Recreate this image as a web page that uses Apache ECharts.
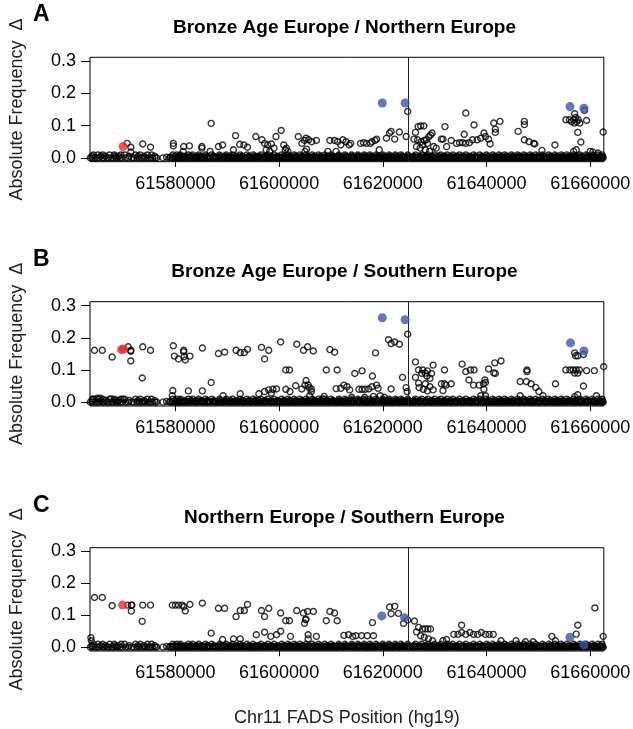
<!DOCTYPE html>
<html><head><meta charset="utf-8">
<script src="https://cdn.jsdelivr.net/npm/echarts@6/dist/echarts.min.js"></script>
<style>html,body{margin:0;padding:0;background:#fff}#c{width:633px;height:729px}</style>
</head><body><div id="c"></div>
<script>
// ---- chart text ----
const panelLetters = ['A', 'B', 'C'];
const panelTitles = ['Bronze Age Europe / Northern Europe', 'Bronze Age Europe / Southern Europe', 'Northern Europe / Southern Europe'];
const yAxisTitle = 'Absolute Frequency  \u0394';
const xAxisTitle = 'Chr11 FADS Position (hg19)';
// ---- axes (positions in bp) ----
const xTicks = [61580000, 61600000, 61620000, 61640000, 61660000];
const yTicks = [0, 0.1, 0.2, 0.3];
const xRange = [61563530, 61662630];
const yRange = [-0.012, 0.312];
const boundaryPos = 61625000;
// ---- SNP positions (kb) with frequency difference ~0, shared by all panels ----
const basePosKb = [61563.6,61564.0,61564.5,61564.9,61565.3,61565.9,61566.2,61566.8,61567.1,61567.6,61568.0,61568.5,61568.8,61569.3,61569.7,61570.4,61570.9,61571.6,61572.0,61572.6,61573.0,61573.5,61573.9,61574.3,61574.8,61575.2,61575.6,61576.1,61576.4,61577.6,61578.9,61579.3,61579.7,61580.1,61580.5,61580.8,61581.2,61581.6,61582.0,61582.3,61582.7,61583.1,61583.6,61584.0,61584.3,61584.8,61585.2,61585.6,61586.0,61586.3,61586.7,61587.2,61587.6,61588.0,61588.3,61588.8,61589.1,61589.5,61590.0,61590.4,61590.7,61591.2,61591.6,61592.0,61592.3,61592.8,61593.2,61593.5,61594.0,61594.4,61594.7,61595.2,61595.6,61596.0,61596.3,61596.8,61597.1,61597.5,61598.0,61598.3,61598.7,61599.2,61599.5,61599.9,61600.3,61600.7,61601.1,61601.5,61601.9,61602.2,61602.7,61603.0,61603.4,61603.9,61604.2,61604.6,61605.0,61605.4,61605.8,61606.2,61606.6,61607.0,61607.4,61607.8,61608.2,61608.6,61609.0,61609.4,61609.8,61610.2,61610.6,61611.0,61611.3,61611.8,61612.2,61612.5,61613.0,61613.3,61613.8,61614.2,61614.5,61615.0,61615.4,61615.7,61616.2,61616.6,61617.0,61617.3,61617.8,61618.2,61618.5,61619.0,61619.4,61619.8,61620.2,61620.5,61621.0,61621.4,61621.8,61622.1,61622.6,61623.0,61623.3,61623.8,61624.2,61624.6,61625.0,61625.4,61625.8,61626.1,61626.6,61627.0,61627.3,61627.8,61628.2,61628.5,61629.0,61629.4,61629.7,61630.2,61630.6,61631.0,61631.3,61631.8,61632.2,61632.5,61633.0,61633.3,61633.8,61634.2,61634.5,61635.0,61635.4,61635.7,61636.2,61636.6,61637.0,61637.3,61637.8,61638.2,61638.5,61639.0,61639.4,61639.7,61640.2,61640.6,61641.0,61641.3,61641.8,61642.2,61642.5,61643.0,61643.4,61643.7,61644.2,61644.6,61645.0,61645.3,61645.8,61646.2,61646.5,61647.0,61647.4,61647.7,61648.2,61648.6,61649.0,61649.3,61649.8,61650.2,61650.5,61651.0,61651.4,61651.7,61652.2,61652.6,61653.0,61653.3,61653.8,61654.2,61654.5,61655.0,61655.4,61655.7,61656.2,61656.6,61657.0,61657.3,61657.8,61658.2,61658.5,61659.0,61659.4,61659.7,61660.2,61660.6,61661.0,61661.3,61661.8,61662.2,61662.5];
const densePosKb = [61578.3,61579.0,61579.5,61580.3,61580.7,61581.4,61581.8,61582.5,61583.3,61583.8,61584.6,61585.0,61585.4,61586.2,61586.5,61587.4,61587.8,61588.5,61589.3,61589.8,61590.2,61590.9,61591.4,61592.1,61592.6,61593.0,61593.8,61594.2,61594.9,61595.4,61595.8,61596.5,61597.3,61597.8,61598.5,61598.9,61599.7,61600.1,61600.6,61600.9,61601.3,61601.8,61602.0,61602.5,61602.9,61603.2,61603.7,61604.1,61604.4,61604.8,61605.2,61605.7,61606.0,61606.4,61606.9,61607.2,61607.6,61608.1,61608.4,61608.8,61609.2,61609.7,61610.0,61610.4,61610.9,61611.2,61611.6,61612.1,61612.4,61612.8,61613.2,61613.7,61614.0,61614.4,61614.9,61615.2,61615.6,61616.1,61616.4,61616.8,61617.2,61617.7,61618.0,61618.4,61618.9,61619.2,61619.6,61620.1,61620.4,61620.8,61621.2,61621.7,61622.0,61622.4,61622.9,61623.2,61623.6,61624.1,61624.4,61624.8,61625.2,61625.7,61626.0,61626.4,61626.9,61627.2,61627.6,61628.1,61628.4,61628.8,61629.2,61629.7,61630.0,61630.4,61630.9,61631.2,61631.6,61632.1,61632.4,61632.8,61633.2,61633.7,61634.0,61634.4,61634.9,61635.2,61635.6,61636.1,61636.4,61636.8,61637.2,61637.7,61638.0,61638.4,61638.9,61639.2,61639.6,61640.1,61640.4,61640.8,61641.2,61641.7,61642.0,61642.4,61642.9,61643.2,61643.6,61644.1,61644.4,61644.8,61645.2,61645.7,61646.0,61646.4,61646.9,61647.2,61647.6,61648.1,61648.4,61648.8,61649.2,61649.7,61650.0,61650.4,61650.9,61651.2,61651.6,61652.1,61652.4,61652.8,61653.2,61653.7,61654.0,61654.4,61654.9,61655.2,61655.6,61656.1,61656.4,61656.8,61657.2,61657.7,61658.0,61658.4,61658.9,61659.2,61659.6,61660.1,61660.4,61660.8,61661.2,61661.7,61662.0,61662.4];
const denseVal = 0.002;
const midPosKb = [61563.9,61565.6,61566.5,61568.4,61569.0,61571.1,61572.8,61574.0,61576.0,61579.9,61580.9,61581.9,61583.0,61584.1,61585.0,61586.1,61587.4,61588.6,61589.6,61590.6,61591.8,61592.9,61594.2,61595.4,61596.1,61597.3,61598.5,61599.7,61600.9,61602.0,61603.2,61604.4,61605.6,61606.8,61608.0,61609.2,61610.4,61611.6,61612.9,61614.1,61615.3,61616.5,61617.7,61618.9,61620.1,61621.3,61622.5,61623.7,61624.9,61626.0,61627.1,61628.3,61629.5,61630.8,61631.9,61633.1,61634.3,61635.5,61636.7,61637.9,61639.1,61640.3,61641.5,61642.7,61643.9,61645.1,61646.3,61647.5,61648.7,61649.9,61651.1,61652.3,61653.5,61654.7,61655.9,61657.1,61658.3,61659.5,61660.7,61661.9];
const midVal = 0.005;
const lowPosKb = [61564.2,61565.1,61566.0,61567.3,61568.2,61569.5,61570.2,61572.3,61573.2,61574.6,61575.4,61579.5,61580.3,61581.0,61582.5,61583.3,61584.5,61585.8,61587.0,61588.5,61589.8,61591.0,61592.5,61593.8,61595.0,61596.5,61597.8,61599.0,61600.5,61601.7,61602.9,61604.0,61605.2,61606.4,61607.6,61608.8,61610.0,61611.5,61612.7,61614.0,61615.2,61616.4,61617.5,61618.7,61620.0,61621.2,61622.4,61623.5,61624.8,61626.3,61627.5,61628.7,61630.0,61631.2,61632.4,61633.5,61634.8,61636.0,61637.5,61638.7,61640.0,61641.2,61642.4,61643.5,61644.8,61646.0,61647.2,61648.4,61649.5,61650.8,61652.0,61653.2,61654.4,61655.5,61656.8,61658.0,61659.2,61660.4,61661.5,61662.3];
const lowVal = 0.009;
// ---- Panel A: [position kb, |delta freq|] ----
const snpsA = [[61570.7,0.045],[61571.4,0.033],[61571.4,0.018],[61573.7,0.043],[61575.2,0.033],[61579.6,0.045],[61579.6,0.037],[61581.6,0.035],[61581.5,0.02],[61582.7,0.037],[61585.1,0.035],[61585.1,0.03],[61586.7,0.02],[61586.9,0.107],[61588.3,0.035],[61589.1,0.04],[61591.6,0.069],[61591.2,0.025],[61592.4,0.042],[61593.2,0.04],[61593.9,0.033],[61595.5,0.066],[61596.7,0.056],[61597.2,0.045],[61597.8,0.04],[61598.5,0.043],[61599.4,0.066],[61600.4,0.085],[61597.5,0.025],[61598.2,0.02],[61599.0,0.03],[61600.9,0.04],[61601.2,0.025],[61601.4,0.03],[61601.7,0.02],[61603.7,0.066],[61604.4,0.045],[61604.9,0.054],[61605.2,0.061],[61605.7,0.056],[61606.3,0.05],[61607.2,0.054],[61605.0,0.02],[61605.3,0.027],[61609.8,0.054],[61610.7,0.054],[61611.3,0.05],[61611.9,0.04],[61612.3,0.056],[61612.9,0.05],[61613.5,0.04],[61613.8,0.045],[61611.0,0.02],[61609.4,0.02],[61615.7,0.045],[61616.3,0.047],[61616.9,0.045],[61617.6,0.045],[61617.9,0.05],[61618.5,0.054],[61618.8,0.058],[61619.3,0.025],[61620.7,0.061],[61621.3,0.077],[61621.6,0.082],[61622.3,0.058],[61623.2,0.08],[61624.5,0.066],[61624.8,0.144],[61626.3,0.079],[61626.8,0.097],[61627.3,0.099],[61627.9,0.099],[61626.0,0.058],[61626.7,0.056],[61627.4,0.05],[61628.0,0.054],[61628.4,0.056],[61628.9,0.066],[61629.5,0.077],[61629.2,0.071],[61626.5,0.035],[61627.2,0.03],[61627.7,0.04],[61628.2,0.025],[61628.6,0.045],[61629.0,0.02],[61629.8,0.035],[61630.3,0.03],[61632.0,0.097],[61631.3,0.058],[61631.6,0.058],[61632.3,0.035],[61633.2,0.054],[61634.2,0.045],[61634.8,0.047],[61635.4,0.047],[61635.7,0.073],[61636.0,0.045],[61636.7,0.047],[61637.3,0.056],[61637.6,0.102],[61638.2,0.056],[61638.9,0.061],[61639.5,0.077],[61639.8,0.066],[61640.4,0.058],[61640.7,0.043],[61636.0,0.139],[61641.4,0.108],[61641.7,0.089],[61641.7,0.079],[61642.6,0.113],[61646.1,0.082],[61647.3,0.113],[61647.3,0.103],[61647.3,0.056],[61648.2,0.05],[61649.1,0.045],[61649.3,0.043],[61650.7,0.023],[61653.2,0.04],[61655.3,0.118],[61656.0,0.118],[61656.4,0.112],[61656.8,0.118],[61657.0,0.108],[61657.2,0.125],[61657.4,0.112],[61657.7,0.118],[61658.0,0.108],[61657.0,0.137],[61658.9,0.147],[61659.3,0.116],[61657.6,0.079],[61658.2,0.049],[61656.8,0.02],[61657.3,0.025],[61660.0,0.02],[61660.5,0.018],[61661.5,0.015],[61662.5,0.08]];
const blueA = [[61619.9,0.17],[61624.3,0.17],[61656.1,0.159],[61658.8,0.154]];
const redA = [[61569.9,0.035]];
// ---- Panel B ----
const snpsB = [[61564.4,0.161],[61565.9,0.161],[61567.8,0.14],[61570.9,0.172],[61571.4,0.161],[61571.4,0.158],[61571.4,0.128],[61573.7,0.172],[61575.2,0.161],[61573.6,0.075],[61579.6,0.175],[61579.8,0.143],[61580.6,0.134],[61581.6,0.161],[61581.6,0.156],[61581.9,0.131],[61581.7,0.141],[61582.8,0.143],[61585.2,0.168],[61586.9,0.061],[61588.3,0.151],[61589.5,0.155],[61591.7,0.161],[61592.5,0.154],[61593.3,0.154],[61593.9,0.164],[61596.6,0.17],[61598.0,0.161],[61597.2,0.134],[61600.3,0.187],[61601.3,0.1],[61602.0,0.1],[61603.4,0.18],[61604.7,0.161],[61605.5,0.172],[61606.6,0.159],[61609.1,0.1],[61609.8,0.163],[61610.7,0.155],[61611.2,0.1],[61564.0,0.01],[61564.9,0.012],[61565.5,0.012],[61567.6,0.01],[61569.9,0.009],[61579.5,0.036],[61579.4,0.02],[61582.5,0.035],[61585.2,0.035],[61589.2,0.02],[61592.5,0.026],[61596.1,0.026],[61597.2,0.033],[61598.0,0.038],[61598.8,0.04],[61599.5,0.041],[61598.5,0.028],[61601.3,0.04],[61602.1,0.033],[61603.2,0.051],[61604.4,0.041],[61605.0,0.053],[61605.2,0.067],[61605.6,0.053],[61605.8,0.045],[61606.2,0.041],[61606.2,0.033],[61605.9,0.02],[61608.4,0.01],[61608.7,0.018],[61611.0,0.042],[61611.9,0.043],[61612.5,0.053],[61613.1,0.048],[61613.6,0.038],[61614.6,0.089],[61616.0,0.097],[61618.0,0.081],[61618.6,0.153],[61621.1,0.194],[61621.6,0.182],[61622.3,0.187],[61623.2,0.18],[61623.8,0.077],[61624.8,0.211],[61615.4,0.04],[61616.0,0.04],[61616.6,0.04],[61617.3,0.041],[61617.9,0.048],[61618.8,0.053],[61619.1,0.043],[61621.6,0.041],[61624.5,0.045],[61624.7,0.033],[61614.0,0.015],[61616.5,0.015],[61618.2,0.018],[61619.5,0.02],[61620.3,0.015],[61626.3,0.125],[61626.9,0.1],[61627.7,0.1],[61628.2,0.09],[61628.6,0.097],[61629.1,0.074],[61629.4,0.089],[61629.7,0.115],[61627.5,0.089],[61628.5,0.081],[61626.3,0.077],[61626.9,0.059],[61628.2,0.057],[61629.1,0.048],[61629.7,0.038],[61627.8,0.04],[61627.0,0.045],[61628.6,0.035],[61631.9,0.1],[61631.3,0.057],[61631.9,0.057],[61632.2,0.053],[61633.2,0.057],[61631.6,0.036],[61635.3,0.118],[61636.0,0.095],[61636.9,0.1],[61637.6,0.1],[61636.6,0.069],[61637.5,0.053],[61638.6,0.053],[61639.4,0.057],[61639.8,0.061],[61639.7,0.069],[61640.4,0.103],[61641.4,0.091],[61641.7,0.089],[61641.6,0.122],[61642.8,0.128],[61639.5,0.04],[61639.8,0.02],[61638.9,0.02],[61647.8,0.1],[61647.8,0.095],[61646.5,0.064],[61647.7,0.064],[61648.6,0.057],[61649.5,0.046],[61650.1,0.033],[61646.5,0.02],[61650.9,0.02],[61653.3,0.057],[61655.3,0.1],[61656.1,0.1],[61656.7,0.1],[61657.3,0.1],[61657.9,0.1],[61657.0,0.09],[61657.6,0.09],[61657.0,0.153],[61657.2,0.144],[61657.6,0.144],[61658.7,0.148],[61659.3,0.098],[61660.8,0.098],[61658.7,0.05],[61657.0,0.017],[61657.6,0.023],[61661.2,0.02],[61662.6,0.11]];
const blueB = [[61619.9,0.262],[61624.3,0.256],[61656.2,0.184],[61658.8,0.159]];
const redB = [[61569.6,0.163],[61570.0,0.165]];
// ---- Panel C ----
const snpsC = [[61564.4,0.156],[61565.9,0.156],[61567.8,0.13],[61570.8,0.132],[61571.5,0.132],[61571.6,0.132],[61571.5,0.113],[61573.7,0.132],[61575.2,0.132],[61573.6,0.081],[61579.4,0.132],[61580.0,0.132],[61580.6,0.132],[61581.3,0.132],[61581.6,0.127],[61581.9,0.114],[61582.8,0.134],[61585.2,0.138],[61588.3,0.122],[61589.5,0.122],[61591.7,0.096],[61592.5,0.115],[61593.3,0.115],[61593.9,0.134],[61596.6,0.115],[61597.2,0.096],[61598.0,0.122],[61600.3,0.107],[61601.3,0.083],[61602.0,0.083],[61603.4,0.115],[61604.7,0.107],[61605.5,0.112],[61606.6,0.112],[61604.9,0.075],[61605.1,0.086],[61605.2,0.088],[61609.1,0.083],[61609.8,0.112],[61610.7,0.107],[61611.2,0.083],[61563.7,0.03],[61563.8,0.02],[61586.9,0.044],[61589.1,0.024],[61591.2,0.026],[61592.5,0.026],[61595.6,0.039],[61597.2,0.047],[61598.4,0.034],[61599.5,0.039],[61600.3,0.05],[61602.2,0.034],[61605.6,0.039],[61605.6,0.026],[61607.2,0.034],[61612.5,0.037],[61613.4,0.039],[61614.2,0.034],[61618.0,0.077],[61621.6,0.105],[61622.3,0.128],[61621.3,0.126],[61623.0,0.106],[61624.0,0.075],[61624.8,0.085],[61614.8,0.036],[61615.9,0.036],[61617.0,0.036],[61618.2,0.036],[61626.1,0.082],[61626.9,0.062],[61627.7,0.057],[61628.2,0.057],[61628.7,0.057],[61629.2,0.057],[61626.5,0.048],[61627.3,0.036],[61628.0,0.031],[61628.8,0.026],[61629.6,0.02],[61633.7,0.04],[61634.5,0.04],[61635.2,0.046],[61636.0,0.04],[61636.8,0.046],[61637.5,0.04],[61638.3,0.04],[61639.0,0.046],[61639.8,0.04],[61640.5,0.04],[61641.3,0.04],[61635.2,0.069],[61631.6,0.02],[61632.3,0.024],[61642.8,0.02],[61645.7,0.02],[61647.5,0.017],[61649.0,0.017],[61652.6,0.034],[61653.3,0.02],[61657.6,0.069],[61657.3,0.041],[61660.9,0.123],[61662.5,0.034]];
const blueC = [[61619.8,0.098],[61624.2,0.092],[61656.1,0.031],[61658.8,0.007]];
const redC = [[61569.8,0.132]];

const hollow = [snpsA, snpsB, snpsC];
const blue = [blueA, blueB, blueC];
const red = [redA, redB, redC];

// ---- layout ----
const FONT = 'Liberation Sans';
const plotLeft = 80.6, plotWidth = 527.7;
const grids = [{top: 57.3, height: 104.4}, {top: 301.7, height: 104.3}, {top: 547.7, height: 103.3}];
const toBp = p => [p[0] * 1000, p[1]];

const chart = echarts.init(document.getElementById('c'), null, {renderer: 'canvas'});
const option = {
  animation: false,
  backgroundColor: '#fff',
  grid: grids.map(g => ({left: plotLeft, width: plotWidth, top: g.top, height: g.height, show: true, borderColor: '#000', borderWidth: 1, backgroundColor: 'transparent'})),
  xAxis: grids.map((g, i) => ({
    gridIndex: i, type: 'value', min: xRange[0], max: xRange[1],
    axisLine: {show: false}, splitLine: {show: false},
    axisTick: {show: true, length: 9, customValues: xTicks, lineStyle: {color: '#000', width: 1}},
    axisLabel: {customValues: xTicks, fontSize: 18, color: '#000', margin: 13, fontFamily: FONT, formatter: v => String(v)},
    name: i === 2 ? xAxisTitle : '', nameLocation: 'middle', nameGap: 58,
    nameTextStyle: {fontSize: 18, color: '#222', fontFamily: FONT}
  })),
  yAxis: grids.map((g, i) => ({
    gridIndex: i, type: 'value', min: yRange[0], max: yRange[1],
    axisLine: {show: false}, splitLine: {show: false},
    axisTick: {show: true, length: 9, customValues: yTicks, lineStyle: {color: '#000', width: 1}},
    axisLabel: {customValues: yTicks, fontSize: 18, color: '#000', margin: 14, fontFamily: FONT, formatter: v => v.toFixed(1)},
    name: yAxisTitle, nameLocation: 'middle', nameGap: 64, nameRotate: 90,
    nameTextStyle: {fontSize: 18, color: '#222', fontFamily: FONT}
  })),
  series: [],
  graphic: []
};
for (let i = 0; i < 3; i++) {
  const hollowStyle = {color: 'rgba(0,0,0,0)', borderColor: '#000', borderWidth: 1.4};
  const base = {type: 'scatter', xAxisIndex: i, yAxisIndex: i, symbolSize: 6, itemStyle: hollowStyle, silent: true};
  option.series.push(Object.assign({}, base, {data: basePosKb.map(k => [k * 1000, 0])}));
  option.series.push(Object.assign({}, base, {data: densePosKb.map(k => [k * 1000, denseVal])}));
  option.series.push(Object.assign({}, base, {data: midPosKb.map(k => [k * 1000, midVal])}));
  option.series.push(Object.assign({}, base, {data: lowPosKb.map(k => [k * 1000, lowVal])}));
  option.series.push(Object.assign({}, base, {data: hollow[i].map(toBp),
    markLine: {silent: true, symbol: 'none', label: {show: false}, lineStyle: {color: '#222', width: 1, type: 'solid'}, data: [{xAxis: boundaryPos}]}}));
  option.series.push({type: 'scatter', xAxisIndex: i, yAxisIndex: i, symbolSize: 9, itemStyle: {color: '#3a56a8'}, data: blue[i].map(toBp), silent: true, z: 5});
  option.series.push({type: 'scatter', xAxisIndex: i, yAxisIndex: i, symbolSize: 9, itemStyle: {color: '#e6302b'}, data: red[i].map(toBp), silent: true, z: 5});
  option.graphic.push({type: 'text', left: 33, top: grids[i].top - 54, style: {text: panelLetters[i], font: 'bold 23px ' + FONT, fill: '#000'}});
  option.graphic.push({type: 'text', x: plotLeft + plotWidth / 2, y: grids[i].top - 30, style: {text: panelTitles[i], font: 'bold 19px ' + FONT, fill: '#000', textAlign: 'center', textVerticalAlign: 'middle'}});
}
chart.setOption(option);
</script></body></html>
